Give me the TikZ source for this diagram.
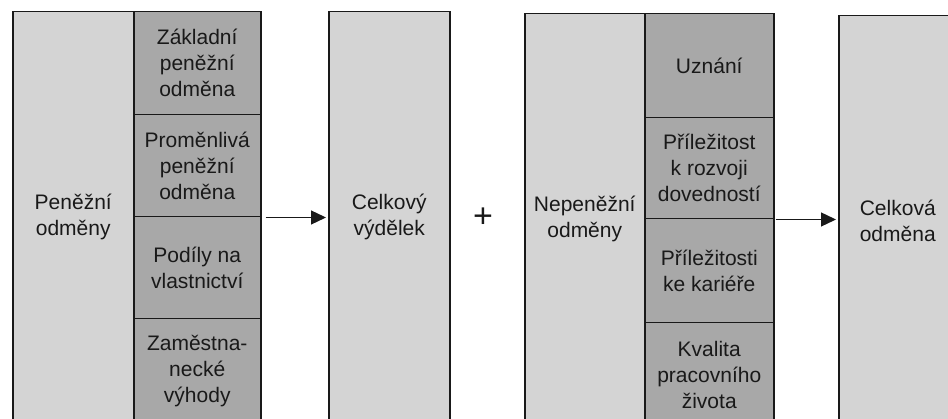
\documentclass[tikz,border=0pt]{standalone}
\usepackage{fontspec}
\setmainfont{Liberation Sans}
\usetikzlibrary{arrows.meta}
\definecolor{lightg}{RGB}{212,212,212}
\definecolor{darkg}{RGB}{168,168,168}
\definecolor{ink}{RGB}{25,25,25}
\begin{document}
\begin{tikzpicture}[x=1pt,y=-1pt,
  box/.style={draw=ink, line width=1.5pt, anchor=north west, inner sep=0pt,
    align=center, font=\fontsize{21}{26}\selectfont, text=ink},
  lightbox/.style={box, fill=lightg},
  darkbox/.style={box, fill=darkg},
  arr/.style={draw=ink, line width=1.3pt, -{Triangle[length=15pt,width=14pt]}, shorten >=2pt}]
\useasboundingbox (0,0) rectangle (948,419);
\clip (0,0) rectangle (948,419);
% Block 1
\node[lightbox, minimum width=121pt, minimum height=410pt] (pen) at (12,11) {Peněžní\\odměny};
\node[darkbox, minimum width=127pt, minimum height=103pt] (zak) at (133,11) {Základní\\peněžní\\odměna};
\node[darkbox, minimum width=127pt, minimum height=102pt] (prom) at (133,114) {Proměnlivá\\peněžní\\odměna};
\node[darkbox, minimum width=127pt, minimum height=102pt] (pod) at (133,216) {Podíly na\\vlastnictví};
\node[darkbox, minimum width=127pt, minimum height=104pt] (zam) at (133,318) {Zaměstna-\\necké\\výhody};
% Block 2
\node[lightbox, minimum width=121pt, minimum height=410pt] (cv) at (328,11) {Celkový\\výdělek};
% plus
\node[font=\fontsize{34}{34}\selectfont, text=ink, inner sep=0pt] (plus) at (483,218) {+};
% Block 3
\node[lightbox, minimum width=120pt, minimum height=410pt] (nep) at (524,13) {Nepeněžní\\odměny};
\node[darkbox, minimum width=129pt, minimum height=104pt] (uzn) at (644,13) {Uznání};
\node[darkbox, minimum width=129pt, minimum height=101pt] (roz) at (644,117) {Příležitost\\k rozvoji\\dovedností};
\node[darkbox, minimum width=129pt, minimum height=104pt] (kar) at (644,218) {Příležitosti\\ke kariéře};
\node[darkbox, minimum width=129pt, minimum height=104pt] (kval) at (644,322) {Kvalita\\pracovního\\života};
% Block 4
\node[lightbox, minimum width=118pt, minimum height=410pt] (co) at (838,15) {Celková\\odměna};
% arrows
\draw[arr] ([xshift=4pt]prom.south east) -- (cv.west |- prom.south east);
\draw[arr] ([xshift=1pt]roz.south east) -- (co.west |- roz.south east);
\end{tikzpicture}
\end{document}
